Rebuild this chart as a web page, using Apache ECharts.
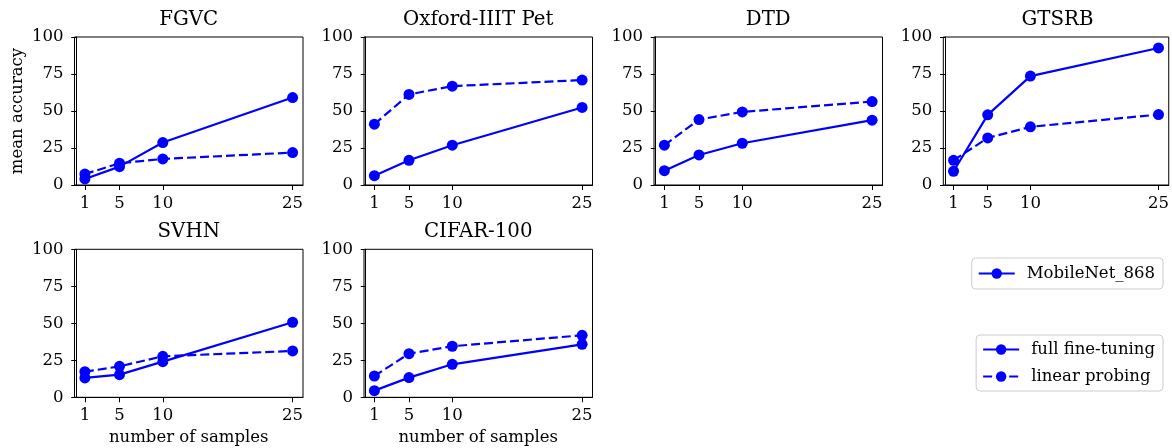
<!DOCTYPE html>
<html><head><meta charset="utf-8">
<script src="https://cdn.jsdelivr.net/npm/echarts@6/dist/echarts.min.js"></script>
<style>html,body{margin:0;padding:0;background:#fff}#c{width:1172px;height:448px}</style>
</head><body><div id="c"></div><script>
// ---- data ----
const samples = [1, 5, 10, 25];
const xTicks = [1, 5, 10, 25];
const yTicks = [0, 25, 50, 75, 100];
const datasetNames = ['FGVC', 'Oxford-IIIT Pet', 'DTD', 'GTSRB', 'SVHN', 'CIFAR-100'];
const fgvcFull = [4.1, 12.4, 28.7, 59.1];
const fgvcLinear = [7.4, 14.7, 17.6, 21.9];
const petFull = [6.3, 16.7, 26.9, 52.4];
const petLinear = [41.1, 61.2, 66.8, 70.9];
const dtdFull = [9.7, 20.3, 28.2, 43.8];
const dtdLinear = [26.9, 44.2, 49.4, 56.4];
const gtsrbFull = [9.3, 47.4, 73.6, 92.6];
const gtsrbLinear = [16.7, 31.8, 39.3, 47.6];
const svhnFull = [13.1, 15.3, 24.1, 50.7];
const svhnLinear = [17.3, 20.9, 27.7, 31.3];
const cifarFull = [4.5, 13.3, 22.3, 35.8];
const cifarLinear = [14.4, 29.5, 34.5, 41.9];
const fullSeries = [fgvcFull, petFull, dtdFull, gtsrbFull, svhnFull, cifarFull];
const linearSeries = [fgvcLinear, petLinear, dtdLinear, gtsrbLinear, svhnLinear, cifarLinear];
const modelName = 'MobileNet_868';
const methodNames = ['full fine-tuning', 'linear probing'];

// ---- layout ----
const FONT = 'DejaVu Serif';
const FS = 16.5;
const BLUE = '#0000ff';
const gridPos = [[74.5, 37], [364, 37], [654, 37], [943.3, 37], [74.5, 249.3], [364, 249.3]];
const GW = 228.5, GH = 148;
const dash = [9, 4];

const grids = [], xAxes = [], yAxes = [], titles = [], series = [];
gridPos.forEach((p, i) => {
  grids.push({left: p[0], top: p[1], width: GW, height: GH, show: true, borderColor: '#000', borderWidth: 1, backgroundColor: 'transparent'});
  titles.push({text: datasetNames[i], left: p[0] + GW / 2, top: p[1] - 27, textAlign: 'center', padding: 0,
    textStyle: {fontFamily: FONT, fontSize: 19.8, fontWeight: 'normal', color: '#000'}});
  xAxes.push({gridIndex: i, type: 'value', min: -0.2, max: 26.2,
    axisLine: {show: true, onZero: false, lineStyle: {color: '#000', width: 1}},
    axisTick: {show: true, length: 5, customValues: xTicks, lineStyle: {color: '#000'}},
    axisLabel: {customValues: xTicks, fontFamily: FONT, fontSize: FS, color: '#000', margin: 10},
    splitLine: {show: false},
    name: i >= 4 ? 'number of samples' : '', nameLocation: 'middle', nameGap: 32,
    nameTextStyle: {fontFamily: FONT, fontSize: FS, color: '#000'}});
  yAxes.push({gridIndex: i, type: 'value', min: 0, max: 100, interval: 25,
    axisLine: {show: true, lineStyle: {color: '#000', width: 1}},
    axisTick: {show: true, length: 5, lineStyle: {color: '#000'}},
    axisLabel: {fontFamily: FONT, fontSize: FS, color: '#000', margin: 11},
    splitLine: {show: false},
    name: i === 0 ? 'mean accuracy' : '', nameLocation: 'middle', nameGap: 48, nameRotate: 90,
    nameTextStyle: {fontFamily: FONT, fontSize: FS, color: '#000'}});
  series.push({name: methodNames[0], type: 'line', xAxisIndex: i, yAxisIndex: i,
    data: samples.map((s, k) => [s, fullSeries[i][k]]),
    symbol: 'circle', symbolSize: 11, showAllSymbol: true,
    lineStyle: {color: BLUE, width: 2.2}, itemStyle: {color: BLUE}, animation: false, z: 3});
  series.push({name: methodNames[1], type: 'line', xAxisIndex: i, yAxisIndex: i,
    data: samples.map((s, k) => [s, linearSeries[i][k]]),
    symbol: 'circle', symbolSize: 11, showAllSymbol: true,
    lineStyle: {color: BLUE, width: 2.2, type: dash}, itemStyle: {color: BLUE}, animation: false, z: 2});
});
series.push({name: modelName, type: 'line', xAxisIndex: 0, yAxisIndex: 0, data: [],
  symbol: 'circle', symbolSize: 11, lineStyle: {color: BLUE, width: 2.2}, itemStyle: {color: BLUE}});

const legendBase = {orient: 'vertical', right: 9, backgroundColor: '#fff',
  borderColor: '#cccccc', borderWidth: 1, borderRadius: 4,
  itemWidth: 36, itemHeight: 13, itemGap: 10, selectedMode: false,
  textStyle: {fontFamily: FONT, fontSize: FS, color: '#000', padding: [0, 0, 0, 7]}};

const chart = echarts.init(document.getElementById('c'), null, {renderer: 'canvas'});
chart.setOption({
  animation: false,
  title: titles,
  grid: grids, xAxis: xAxes, yAxis: yAxes, series: series,
  legend: [
    Object.assign({}, legendBase, {top: 258, data: [modelName], padding: [7, 8, 7, 6]}),
    Object.assign({}, legendBase, {top: 335, data: methodNames, padding: [6, 8, 6, 6]})
  ]
});
</script></body></html>
